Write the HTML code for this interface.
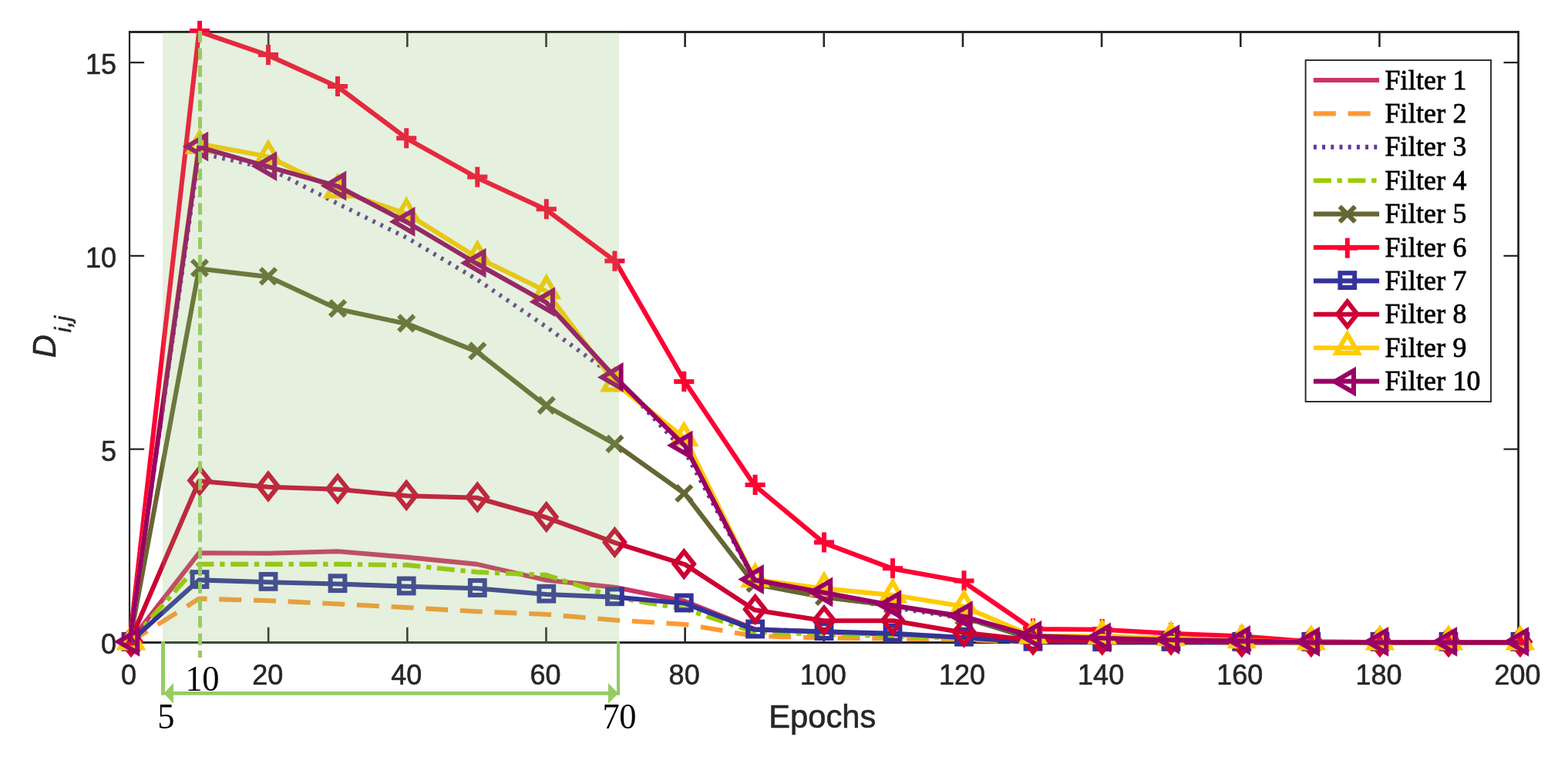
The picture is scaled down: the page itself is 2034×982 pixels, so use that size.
<!DOCTYPE html>
<html lang="en"><head><meta charset="utf-8"><title>D i,j versus Epochs</title>
<style>html,body{margin:0;padding:0;background:#fff}body{width:2034px;height:982px;overflow:hidden}svg{display:block}.t{font-family:"Liberation Sans",Arial,sans-serif;font-size:37.5px;fill:#262626;stroke:#262626;stroke-width:0.6px}.l{font-family:"Liberation Serif","Times New Roman",serif;font-size:35.8px;fill:#000;stroke:#000;stroke-width:0.8px;letter-spacing:0.2px}.a{font-family:"Liberation Serif","Times New Roman",serif;font-size:47.3px;fill:#000;letter-spacing:-0.6px}</style></head><body>
<svg width="2034" height="982" viewBox="0 0 2034 982">
<defs><linearGradient id="g" x1="0" y1="0" x2="0" y2="1"><stop offset="0" stop-color="#f8fafd"/><stop offset="1" stop-color="#ffffff"/></linearGradient></defs>
<rect width="2034" height="982" fill="#fff"/>
<rect x="214" y="835" width="584" height="13" fill="url(#g)"/>
<g stroke="#262626" fill="none" stroke-linecap="butt">
<path d="M166.9 41.5H1971" stroke-width="2.8"/>
<path d="M166.9 833.4H1971" stroke-width="3.05"/>
<path d="M168 41.5V833.4" stroke-width="2.2"/>
<path d="M1969.6 41.5V833.4" stroke-width="2.8"/>
<path d="M348.16 833.4V813.8M348.16 41.5V61.1M528.32 833.4V813.8M528.32 41.5V61.1M708.48 833.4V813.8M708.48 41.5V61.1M888.64 833.4V813.8M888.64 41.5V61.1M1068.8 833.4V813.8M1068.8 41.5V61.1M1248.96 833.4V813.8M1248.96 41.5V61.1M1429.12 833.4V813.8M1429.12 41.5V61.1M1609.28 833.4V813.8M1609.28 41.5V61.1M1789.44 833.4V813.8M1789.44 41.5V61.1" stroke-width="2.6"/>
<path d="M168 582.62H187.1M1969.6 582.62H1950.5M168 331.83H187.1M1969.6 331.83H1950.5M168 81.05H187.1M1969.6 81.05H1950.5" stroke-width="2.2"/>
</g>
<g class="t" text-anchor="middle">
<text transform="translate(167 887.5) scale(0.96 1)">0</text>
<text transform="translate(347.16 887.5) scale(0.96 1)">20</text>
<text transform="translate(527.32 887.5) scale(0.96 1)">40</text>
<text transform="translate(707.48 887.5) scale(0.96 1)">60</text>
<text transform="translate(887.64 887.5) scale(0.96 1)">80</text>
<text transform="translate(1067.8 887.5) scale(0.96 1)">100</text>
<text transform="translate(1247.96 887.5) scale(0.96 1)">120</text>
<text transform="translate(1428.12 887.5) scale(0.96 1)">140</text>
<text transform="translate(1608.28 887.5) scale(0.96 1)">160</text>
<text transform="translate(1788.44 887.5) scale(0.96 1)">180</text>
<text transform="translate(1968.6 887.5) scale(0.96 1)">200</text>
</g>
<g class="t" text-anchor="end">
<text transform="translate(151 848.4) scale(0.96 1)">0</text>
<text transform="translate(151 597.62) scale(0.96 1)">5</text>
<text transform="translate(151 346.83) scale(0.96 1)">10</text>
<text transform="translate(151 96.05) scale(0.96 1)">15</text>
</g>
<text class="t" style="font-size:41.67px" text-anchor="middle" x="1066.8" y="944.4">Epochs</text>
<text class="t" style="font-size:41.67px;font-style:italic" transform="translate(72.3 464.2) rotate(-90)">D<tspan style="font-size:29.8px" dx="2.8" dy="20">i,j</tspan></text>
<g fill="none" stroke-linejoin="round" stroke-linecap="butt">
<g stroke-linejoin="miter" stroke-miterlimit="10">
<polyline points="168.1,833.2 258.18,717.3 348.26,717.8 438.34,715.3 528.42,722.9 618.5,731.9 708.58,752.5 798.66,762 888.74,780 978.82,816 1068.9,820 1158.98,823 1249.06,827 1339.14,831 1429.22,833.2 1519.3,833.2 1609.38,833.2 1699.46,833.2 1789.54,833.2 1879.62,833.2 1969.7,833.2" stroke="#CC3366" stroke-width="6.1" stroke-linejoin="round"/>
</g>
<g stroke-linejoin="miter" stroke-miterlimit="10">
<polyline points="168.1,833.2 258.18,776.6 348.26,779.2 438.34,783.5 528.42,788.1 618.5,793.2 708.58,797 798.66,804.5 888.74,810 978.82,825 1068.9,827.5 1158.98,828.5 1249.06,829.5 1339.14,833.2 1429.22,833.2 1519.3,833.2 1609.38,833.2 1699.46,833.2 1789.54,833.2 1879.62,833.2 1969.7,833.2" stroke="#FF9933" stroke-width="6.1" stroke-linejoin="round" stroke-dasharray="29 15.7" stroke-dashoffset="1.6"/>
</g>
<g stroke-linejoin="miter" stroke-miterlimit="10">
<polyline points="168.1,833.2 258.18,198.5 348.26,218.3 438.34,264.3 528.42,308.8 618.5,362.3 708.58,424 798.66,489.5 888.74,586 978.82,753 1068.9,772 1158.98,788 1249.06,802 1339.14,826 1429.22,828 1519.3,830 1609.38,831 1699.46,833.2 1789.54,833.2 1879.62,833.2 1969.7,833.2" stroke="#663399" stroke-width="5.7" stroke-linejoin="round" stroke-dasharray="3.6 7.6" stroke-dashoffset="0"/>
</g>
<g stroke-linejoin="miter" stroke-miterlimit="10">
<polyline points="168.1,833.2 258.18,731.9 348.26,731.9 438.34,731.9 528.42,733.1 618.5,742.1 708.58,745.9 798.66,775 888.74,790 978.82,820 1068.9,823 1158.98,825 1249.06,828 1339.14,831.5 1429.22,833.2 1519.3,833.2 1609.38,833.2 1699.46,833.2 1789.54,833.2 1879.62,833.2 1969.7,833.2" stroke="#99CC00" stroke-width="6.1" stroke-linejoin="round" stroke-dasharray="22.9 7.7 6.4 7.65" stroke-dashoffset="2.0"/>
</g>
<g stroke-linejoin="miter" stroke-miterlimit="10">
<polyline points="168.1,833.2 258.18,348.5 348.26,359.1 438.34,401 528.42,420.2 618.5,456.2 708.58,526.6 798.66,576.7 888.74,640.8 978.82,757.8 1068.9,774.8 1158.98,785.8 1249.06,800.8 1339.14,828.8 1429.22,829.8 1519.3,830.8 1609.38,831.8 1699.46,833.2 1789.54,833.2 1879.62,833.2 1969.7,833.2" stroke="#666633" stroke-width="6.1" stroke-linejoin="round"/>
<path d="M160 822.4L180 842.4M160 842.4L180 822.4" fill="none" stroke="#666633" stroke-width="6"/>
<path d="M249 337.7L269 357.7M249 357.7L269 337.7" fill="none" stroke="#666633" stroke-width="6"/>
<path d="M338 348.3L358 368.3M338 368.3L358 348.3" fill="none" stroke="#666633" stroke-width="6"/>
<path d="M428 390.2L448 410.2M428 410.2L448 390.2" fill="none" stroke="#666633" stroke-width="6"/>
<path d="M517.2 409.4L537.2 429.4M517.2 429.4L537.2 409.4" fill="none" stroke="#666633" stroke-width="6"/>
<path d="M609.3 445.4L629.3 465.4M609.3 465.4L629.3 445.4" fill="none" stroke="#666633" stroke-width="6"/>
<path d="M698.8 515.8L718.8 535.8M698.8 535.8L718.8 515.8" fill="none" stroke="#666633" stroke-width="6"/>
<path d="M787.4 565.9L807.4 585.9M787.4 585.9L807.4 565.9" fill="none" stroke="#666633" stroke-width="6"/>
<path d="M877.3 630L897.3 650M877.3 650L897.3 630" fill="none" stroke="#666633" stroke-width="6"/>
<path d="M969.6 747L989.6 767M969.6 767L989.6 747" fill="none" stroke="#666633" stroke-width="6"/>
<path d="M1059 764L1079 784M1059 784L1079 764" fill="none" stroke="#666633" stroke-width="6"/>
<path d="M1148 775L1168 795M1148 795L1168 775" fill="none" stroke="#666633" stroke-width="6"/>
<path d="M1240.5 790L1260.5 810M1240.5 810L1260.5 790" fill="none" stroke="#666633" stroke-width="6"/>
<path d="M1330 818L1350 838M1330 838L1350 818" fill="none" stroke="#666633" stroke-width="6"/>
<path d="M1419.7 819L1439.7 839M1419.7 839L1439.7 819" fill="none" stroke="#666633" stroke-width="6"/>
<path d="M1509 820L1529 840M1509 840L1529 820" fill="none" stroke="#666633" stroke-width="6"/>
<path d="M1600.8 821L1620.8 841M1600.8 841L1620.8 821" fill="none" stroke="#666633" stroke-width="6"/>
<path d="M1690.8 822.4L1710.8 842.4M1690.8 842.4L1710.8 822.4" fill="none" stroke="#666633" stroke-width="6"/>
<path d="M1780 822.4L1800 842.4M1780 842.4L1800 822.4" fill="none" stroke="#666633" stroke-width="6"/>
<path d="M1869 822.4L1889 842.4M1869 842.4L1889 822.4" fill="none" stroke="#666633" stroke-width="6"/>
<path d="M1962 822.4L1982 842.4M1962 842.4L1982 822.4" fill="none" stroke="#666633" stroke-width="6"/>
</g>
<g stroke-linejoin="miter" stroke-miterlimit="10">
<polyline points="168.1,833.2 258.18,40.8 348.26,71.9 438.34,112.8 528.42,180.1 618.5,230.4 708.58,272 798.66,339.4 888.74,495.7 978.82,629.7 1068.9,704.3 1158.98,738.1 1249.06,754.2 1339.14,816 1429.22,816.8 1519.3,821.8 1609.38,825.4 1699.46,832.3 1789.54,833.2 1879.62,833.2 1969.7,833.2" stroke="#FF0033" stroke-width="6.1" stroke-linejoin="round"/>
<path d="M156.95 832.4H183.05M170 819.35V845.45" fill="none" stroke="#FF0033" stroke-width="6"/>
<path d="M245.95 40H272.05M259 26.95V53.05" fill="none" stroke="#FF0033" stroke-width="6"/>
<path d="M334.95 71.1H361.05M348 58.05V84.15" fill="none" stroke="#FF0033" stroke-width="6"/>
<path d="M424.95 112H451.05M438 98.95V125.05" fill="none" stroke="#FF0033" stroke-width="6"/>
<path d="M514.15 179.3H540.25M527.2 166.25V192.35" fill="none" stroke="#FF0033" stroke-width="6"/>
<path d="M606.25 229.6H632.35M619.3 216.55V242.65" fill="none" stroke="#FF0033" stroke-width="6"/>
<path d="M695.75 271.2H721.85M708.8 258.15V284.25" fill="none" stroke="#FF0033" stroke-width="6"/>
<path d="M784.35 338.6H810.45M797.4 325.55V351.65" fill="none" stroke="#FF0033" stroke-width="6"/>
<path d="M874.25 494.9H900.35M887.3 481.85V507.95" fill="none" stroke="#FF0033" stroke-width="6"/>
<path d="M966.55 628.9H992.65M979.6 615.85V641.95" fill="none" stroke="#FF0033" stroke-width="6"/>
<path d="M1055.95 703.5H1082.05M1069 690.45V716.55" fill="none" stroke="#FF0033" stroke-width="6"/>
<path d="M1144.95 737.3H1171.05M1158 724.25V750.35" fill="none" stroke="#FF0033" stroke-width="6"/>
<path d="M1237.45 753.4H1263.55M1250.5 740.35V766.45" fill="none" stroke="#FF0033" stroke-width="6"/>
<path d="M1326.95 815.2H1353.05M1340 802.15V828.25" fill="none" stroke="#FF0033" stroke-width="6"/>
<path d="M1416.65 816H1442.75M1429.7 802.95V829.05" fill="none" stroke="#FF0033" stroke-width="6"/>
<path d="M1505.95 821H1532.05M1519 807.95V834.05" fill="none" stroke="#FF0033" stroke-width="6"/>
<path d="M1597.75 824.6H1623.85M1610.8 811.55V837.65" fill="none" stroke="#FF0033" stroke-width="6"/>
<path d="M1687.75 831.5H1713.85M1700.8 818.45V844.55" fill="none" stroke="#FF0033" stroke-width="6"/>
<path d="M1776.95 832.4H1803.05M1790 819.35V845.45" fill="none" stroke="#FF0033" stroke-width="6"/>
<path d="M1865.95 832.4H1892.05M1879 819.35V845.45" fill="none" stroke="#FF0033" stroke-width="6"/>
<path d="M1958.95 832.4H1985.05M1972 819.35V845.45" fill="none" stroke="#FF0033" stroke-width="6"/>
</g>
<g stroke-linejoin="miter" stroke-miterlimit="10">
<polyline points="168.1,833.2 258.18,752.4 348.26,755.2 438.34,757.5 528.42,760.8 618.5,763.3 708.58,771 798.66,774.6 888.74,782.8 978.82,816.8 1068.9,819.4 1158.98,821.9 1249.06,827 1339.14,833.2 1429.22,833.2 1519.3,833.2 1609.38,833.2 1699.46,833.2 1789.54,833.2 1879.62,833.2 1969.7,833.2" stroke="#333399" stroke-width="6.1" stroke-linejoin="round"/>
<rect x="160.6" y="823" width="18.8" height="18.8" fill="none" stroke="#333399" stroke-width="6"/>
<rect x="249.6" y="742.2" width="18.8" height="18.8" fill="none" stroke="#333399" stroke-width="6"/>
<rect x="338.6" y="745" width="18.8" height="18.8" fill="none" stroke="#333399" stroke-width="6"/>
<rect x="428.6" y="747.3" width="18.8" height="18.8" fill="none" stroke="#333399" stroke-width="6"/>
<rect x="517.8" y="750.6" width="18.8" height="18.8" fill="none" stroke="#333399" stroke-width="6"/>
<rect x="609.9" y="753.1" width="18.8" height="18.8" fill="none" stroke="#333399" stroke-width="6"/>
<rect x="699.4" y="760.8" width="18.8" height="18.8" fill="none" stroke="#333399" stroke-width="6"/>
<rect x="788" y="764.4" width="18.8" height="18.8" fill="none" stroke="#333399" stroke-width="6"/>
<rect x="877.9" y="772.6" width="18.8" height="18.8" fill="none" stroke="#333399" stroke-width="6"/>
<rect x="970.2" y="806.6" width="18.8" height="18.8" fill="none" stroke="#333399" stroke-width="6"/>
<rect x="1059.6" y="809.2" width="18.8" height="18.8" fill="none" stroke="#333399" stroke-width="6"/>
<rect x="1148.6" y="811.7" width="18.8" height="18.8" fill="none" stroke="#333399" stroke-width="6"/>
<rect x="1241.1" y="816.8" width="18.8" height="18.8" fill="none" stroke="#333399" stroke-width="6"/>
<rect x="1330.6" y="822.8" width="18.8" height="18.8" fill="none" stroke="#333399" stroke-width="6"/>
<rect x="1420.3" y="823.2" width="18.8" height="18.8" fill="none" stroke="#333399" stroke-width="6"/>
<rect x="1509.6" y="823" width="18.8" height="18.8" fill="none" stroke="#333399" stroke-width="6"/>
<rect x="1601.4" y="823" width="18.8" height="18.8" fill="none" stroke="#333399" stroke-width="6"/>
<rect x="1691.4" y="823" width="18.8" height="18.8" fill="none" stroke="#333399" stroke-width="6"/>
<rect x="1780.6" y="823" width="18.8" height="18.8" fill="none" stroke="#333399" stroke-width="6"/>
<rect x="1869.6" y="823" width="18.8" height="18.8" fill="none" stroke="#333399" stroke-width="6"/>
<rect x="1962.6" y="823" width="18.8" height="18.8" fill="none" stroke="#333399" stroke-width="6"/>
</g>
<g stroke-linejoin="miter" stroke-miterlimit="10">
<polyline points="168.1,833.2 258.18,624 348.26,631.7 438.34,634.8 528.42,643.2 618.5,645.8 708.58,671.3 798.66,704.3 888.74,732.4 978.82,791.2 1068.9,805.3 1158.98,805.3 1249.06,820.6 1339.14,830.6 1429.22,830.6 1519.3,830.6 1609.38,833.2 1699.46,833.2 1789.54,833.2 1879.62,833.2 1969.7,833.2" stroke="#CC0033" stroke-width="6.1" stroke-linejoin="round"/>
<path d="M170 816.4L182.7 832.4L170 848.4L157.3 832.4Z" fill="none" stroke="#CC0033" stroke-width="6"/>
<path d="M259 607.2L271.7 623.2L259 639.2L246.3 623.2Z" fill="none" stroke="#CC0033" stroke-width="6"/>
<path d="M348 614.9L360.7 630.9L348 646.9L335.3 630.9Z" fill="none" stroke="#CC0033" stroke-width="6"/>
<path d="M438 618L450.7 634L438 650L425.3 634Z" fill="none" stroke="#CC0033" stroke-width="6"/>
<path d="M527.2 626.4L539.9 642.4L527.2 658.4L514.5 642.4Z" fill="none" stroke="#CC0033" stroke-width="6"/>
<path d="M619.3 629L632 645L619.3 661L606.6 645Z" fill="none" stroke="#CC0033" stroke-width="6"/>
<path d="M708.8 654.5L721.5 670.5L708.8 686.5L696.1 670.5Z" fill="none" stroke="#CC0033" stroke-width="6"/>
<path d="M797.4 687.5L810.1 703.5L797.4 719.5L784.7 703.5Z" fill="none" stroke="#CC0033" stroke-width="6"/>
<path d="M887.3 715.6L900 731.6L887.3 747.6L874.6 731.6Z" fill="none" stroke="#CC0033" stroke-width="6"/>
<path d="M979.6 774.4L992.3 790.4L979.6 806.4L966.9 790.4Z" fill="none" stroke="#CC0033" stroke-width="6"/>
<path d="M1069 788.5L1081.7 804.5L1069 820.5L1056.3 804.5Z" fill="none" stroke="#CC0033" stroke-width="6"/>
<path d="M1158 788.5L1170.7 804.5L1158 820.5L1145.3 804.5Z" fill="none" stroke="#CC0033" stroke-width="6"/>
<path d="M1250.5 803.8L1263.2 819.8L1250.5 835.8L1237.8 819.8Z" fill="none" stroke="#CC0033" stroke-width="6"/>
<path d="M1340 813.8L1352.7 829.8L1340 845.8L1327.3 829.8Z" fill="none" stroke="#CC0033" stroke-width="6"/>
<path d="M1429.7 813.8L1442.4 829.8L1429.7 845.8L1417 829.8Z" fill="none" stroke="#CC0033" stroke-width="6"/>
<path d="M1519 813.8L1531.7 829.8L1519 845.8L1506.3 829.8Z" fill="none" stroke="#CC0033" stroke-width="6"/>
<path d="M1610.8 816.7L1623.5 832.7L1610.8 848.7L1598.1 832.7Z" fill="none" stroke="#CC0033" stroke-width="6"/>
<path d="M1700.8 816.4L1713.5 832.4L1700.8 848.4L1688.1 832.4Z" fill="none" stroke="#CC0033" stroke-width="6"/>
<path d="M1790 816.4L1802.7 832.4L1790 848.4L1777.3 832.4Z" fill="none" stroke="#CC0033" stroke-width="6"/>
<path d="M1879 816.4L1891.7 832.4L1879 848.4L1866.3 832.4Z" fill="none" stroke="#CC0033" stroke-width="6"/>
<path d="M1972 816.4L1984.7 832.4L1972 848.4L1959.3 832.4Z" fill="none" stroke="#CC0033" stroke-width="6"/>
</g>
<g stroke-linejoin="miter" stroke-miterlimit="10">
<polyline points="168.1,833.2 258.18,186.6 348.26,203.3 438.34,247.2 528.42,277.6 618.5,333.8 708.58,377.8 798.66,498 888.74,568.6 978.82,751.8 1068.9,763.4 1158.98,772.1 1249.06,786.6 1339.14,824.9 1429.22,825.3 1519.3,827.9 1609.38,830.9 1699.46,833.2 1789.54,833.2 1879.62,833.2 1969.7,833.2" stroke="#FFCC00" stroke-width="6.1" stroke-linejoin="round"/>
<path d="M170 816L184.2 840.6L155.8 840.6Z" fill="none" stroke="#FFCC00" stroke-width="6"/>
<path d="M259 172.3L273.2 196.9L244.8 196.9Z" fill="none" stroke="#FFCC00" stroke-width="6"/>
<path d="M348 186.1L362.2 210.7L333.8 210.7Z" fill="none" stroke="#FFCC00" stroke-width="6"/>
<path d="M438 230L452.2 254.6L423.8 254.6Z" fill="none" stroke="#FFCC00" stroke-width="6"/>
<path d="M527.2 260.4L541.4 285L513 285Z" fill="none" stroke="#FFCC00" stroke-width="6"/>
<path d="M619.3 316.6L633.5 341.2L605.1 341.2Z" fill="none" stroke="#FFCC00" stroke-width="6"/>
<path d="M708.8 360.6L723 385.2L694.6 385.2Z" fill="none" stroke="#FFCC00" stroke-width="6"/>
<path d="M797.4 480.8L811.6 505.4L783.2 505.4Z" fill="none" stroke="#FFCC00" stroke-width="6"/>
<path d="M887.3 551.4L901.5 576L873.1 576Z" fill="none" stroke="#FFCC00" stroke-width="6"/>
<path d="M979.6 734.6L993.8 759.2L965.4 759.2Z" fill="none" stroke="#FFCC00" stroke-width="6"/>
<path d="M1069 746.2L1083.2 770.8L1054.8 770.8Z" fill="none" stroke="#FFCC00" stroke-width="6"/>
<path d="M1158 754.9L1172.2 779.5L1143.8 779.5Z" fill="none" stroke="#FFCC00" stroke-width="6"/>
<path d="M1250.5 769.4L1264.7 794L1236.3 794Z" fill="none" stroke="#FFCC00" stroke-width="6"/>
<path d="M1340 807.7L1354.2 832.3L1325.8 832.3Z" fill="none" stroke="#FFCC00" stroke-width="6"/>
<path d="M1429.7 808.1L1443.9 832.7L1415.5 832.7Z" fill="none" stroke="#FFCC00" stroke-width="6"/>
<path d="M1519 810.7L1533.2 835.3L1504.8 835.3Z" fill="none" stroke="#FFCC00" stroke-width="6"/>
<path d="M1610.8 813.7L1625 838.3L1596.6 838.3Z" fill="none" stroke="#FFCC00" stroke-width="6"/>
<path d="M1700.8 816L1715 840.6L1686.6 840.6Z" fill="none" stroke="#FFCC00" stroke-width="6"/>
<path d="M1790 816L1804.2 840.6L1775.8 840.6Z" fill="none" stroke="#FFCC00" stroke-width="6"/>
<path d="M1879 816L1893.2 840.6L1864.8 840.6Z" fill="none" stroke="#FFCC00" stroke-width="6"/>
<path d="M1972 816L1986.2 840.6L1957.8 840.6Z" fill="none" stroke="#FFCC00" stroke-width="6"/>
</g>
<g stroke-linejoin="miter" stroke-miterlimit="10">
<polyline points="168.1,833.2 258.18,190.8 348.26,216.4 438.34,241.8 528.42,288.5 618.5,342 708.58,392.4 798.66,490.2 888.74,578.6 978.82,752.3 1068.9,768.8 1158.98,785.5 1249.06,799.5 1339.14,825 1429.22,827.8 1519.3,830.3 1609.38,831.3 1699.46,833.2 1789.54,833.2 1879.62,833.2 1969.7,833.2" stroke="#990066" stroke-width="6.1" stroke-linejoin="round"/>
<path d="M153.6 832.4L178.2 818.2L178.2 846.6Z" fill="none" stroke="#990066" stroke-width="6"/>
<path d="M242.6 190L267.2 175.8L267.2 204.2Z" fill="none" stroke="#990066" stroke-width="6"/>
<path d="M331.6 215.6L356.2 201.4L356.2 229.8Z" fill="none" stroke="#990066" stroke-width="6"/>
<path d="M421.6 241L446.2 226.8L446.2 255.2Z" fill="none" stroke="#990066" stroke-width="6"/>
<path d="M510.8 287.7L535.4 273.5L535.4 301.9Z" fill="none" stroke="#990066" stroke-width="6"/>
<path d="M602.9 341.2L627.5 327L627.5 355.4Z" fill="none" stroke="#990066" stroke-width="6"/>
<path d="M692.4 391.6L717 377.4L717 405.8Z" fill="none" stroke="#990066" stroke-width="6"/>
<path d="M781 489.4L805.6 475.2L805.6 503.6Z" fill="none" stroke="#990066" stroke-width="6"/>
<path d="M870.9 577.8L895.5 563.6L895.5 592Z" fill="none" stroke="#990066" stroke-width="6"/>
<path d="M963.2 751.5L987.8 737.3L987.8 765.7Z" fill="none" stroke="#990066" stroke-width="6"/>
<path d="M1052.6 768L1077.2 753.8L1077.2 782.2Z" fill="none" stroke="#990066" stroke-width="6"/>
<path d="M1141.6 784.7L1166.2 770.5L1166.2 798.9Z" fill="none" stroke="#990066" stroke-width="6"/>
<path d="M1234.1 798.7L1258.7 784.5L1258.7 812.9Z" fill="none" stroke="#990066" stroke-width="6"/>
<path d="M1323.6 824.2L1348.2 810L1348.2 838.4Z" fill="none" stroke="#990066" stroke-width="6"/>
<path d="M1413.3 827L1437.9 812.8L1437.9 841.2Z" fill="none" stroke="#990066" stroke-width="6"/>
<path d="M1502.6 829.5L1527.2 815.3L1527.2 843.7Z" fill="none" stroke="#990066" stroke-width="6"/>
<path d="M1594.4 830.5L1619 816.3L1619 844.7Z" fill="none" stroke="#990066" stroke-width="6"/>
<path d="M1684.4 832.4L1709 818.2L1709 846.6Z" fill="none" stroke="#990066" stroke-width="6"/>
<path d="M1773.6 832.4L1798.2 818.2L1798.2 846.6Z" fill="none" stroke="#990066" stroke-width="6"/>
<path d="M1862.6 832.4L1887.2 818.2L1887.2 846.6Z" fill="none" stroke="#990066" stroke-width="6"/>
<path d="M1955.6 832.4L1980.2 818.2L1980.2 846.6Z" fill="none" stroke="#990066" stroke-width="6"/>
</g>
</g>
<rect x="210.9" y="42" width="592.1" height="793" fill="#89BB69" fill-opacity="0.22"/>
<g stroke="#97CB63" fill="none">
<path d="M259.5 40.1V853" stroke-width="5" stroke-dasharray="15 7.33"/>
<path d="M211.5 832.2V901.8" stroke-width="5"/>
<path d="M802 832.2V901.8" stroke-width="4.1"/>
<path d="M222 899.4H792" stroke-width="4.7"/>
</g>
<path d="M212.5 899.4L225 886V912.8Z" fill="#97CB63"/>
<path d="M802 899.4L789 886V912.8Z" fill="#97CB63"/>
<text class="a" transform="translate(240.6 895.6) scale(0.94 1)">10</text>
<text class="a" transform="translate(204.2 945.3) scale(0.94 1)">5</text>
<text class="a" transform="translate(781.6 945.3) scale(0.94 1)">70</text>
<rect x="1693.6" y="78.1" width="240.5" height="442.9" fill="#fff" stroke="#262626" stroke-width="1.9"/>
<g fill="none" stroke-linejoin="miter" stroke-miterlimit="10">
<path d="M1703.9 104H1789.1" stroke="#CC3366" stroke-width="6.1"/>
<path d="M1703.9 147.4H1789.1" stroke="#FF9933" stroke-width="6.1" stroke-dasharray="29 15.7"/>
<path d="M1703.9 190.8H1789.1" stroke="#663399" stroke-width="6.1" stroke-dasharray="4 7.2"/>
<path d="M1703.9 234.2H1789.1" stroke="#99CC00" stroke-width="6.1" stroke-dasharray="22.9 7.7 6.4 7.65"/>
<path d="M1703.9 277.6H1789.1" stroke="#666633" stroke-width="6.1"/>
<path d="M1737.8 267.8L1757.8 287.8M1737.8 287.8L1757.8 267.8" fill="none" stroke="#666633" stroke-width="6"/>
<path d="M1703.9 321H1789.1" stroke="#FF0033" stroke-width="6.1"/>
<path d="M1734.75 321.8H1760.85M1747.8 308.75V334.85" fill="none" stroke="#FF0033" stroke-width="6"/>
<path d="M1703.9 364.4H1789.1" stroke="#333399" stroke-width="6.1"/>
<rect x="1738.4" y="354.2" width="18.8" height="18.8" fill="none" stroke="#333399" stroke-width="6"/>
<path d="M1703.9 407.8H1789.1" stroke="#CC0033" stroke-width="6.1"/>
<path d="M1747.8 391.4L1760.5 407.4L1747.8 423.4L1735.1 407.4Z" fill="none" stroke="#CC0033" stroke-width="6"/>
<path d="M1703.9 451.2H1789.1" stroke="#FFCC00" stroke-width="6.1"/>
<path d="M1747.8 433.5L1762 458.1L1733.6 458.1Z" fill="none" stroke="#FFCC00" stroke-width="6"/>
<path d="M1703.9 494.6H1789.1" stroke="#990066" stroke-width="6.1"/>
<path d="M1731.4 495L1756 480.8L1756 509.2Z" fill="none" stroke="#990066" stroke-width="6"/>
</g>
<g class="l">
<text x="1796.5" y="115.6">Filter 1</text>
<text x="1796.5" y="159">Filter 2</text>
<text x="1796.5" y="202.4">Filter 3</text>
<text x="1796.5" y="245.8">Filter 4</text>
<text x="1796.5" y="289.2">Filter 5</text>
<text x="1796.5" y="332.6">Filter 6</text>
<text x="1796.5" y="376">Filter 7</text>
<text x="1796.5" y="419.4">Filter 8</text>
<text x="1796.5" y="462.8">Filter 9</text>
<text x="1796.5" y="506.2">Filter 10</text>
</g>
</svg></body></html>
